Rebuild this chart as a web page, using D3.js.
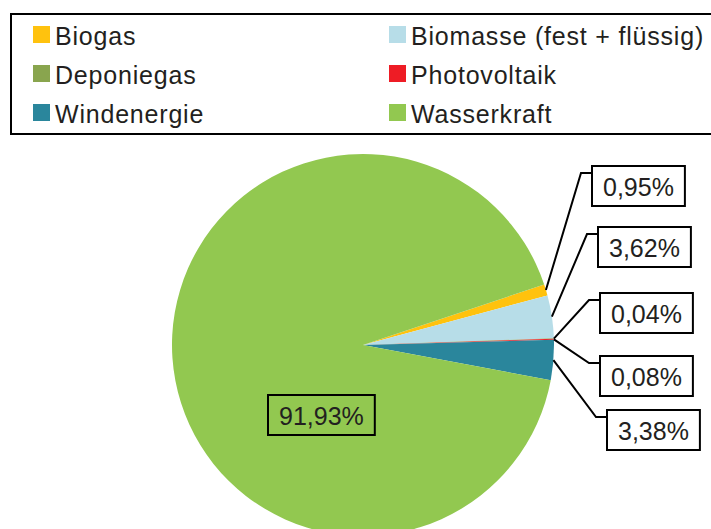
<!DOCTYPE html>
<meta charset="utf-8">
<style>
body { margin: 0; background: #fff; }
svg text {
  font-family: "Liberation Sans", Arial, sans-serif;
  font-size: 25px;
  fill: #231f20;
}
.legend text { letter-spacing: 0.8px; }
.frame { fill: none; stroke: #000; stroke-width: 2px; }
.leader { fill: none; stroke: #000; stroke-width: 2px; }
</style>
<svg width="711" height="529"></svg>
<script src="https://cdnjs.cloudflare.com/ajax/libs/d3/7.8.5/d3.min.js"></script>
<script>

// data
var categories = ["Biogas", "Biomasse (fest + flüssig)", "Deponiegas", "Photovoltaik", "Windenergie", "Wasserkraft"];
var shares = [0.95, 3.62, 0.04, 0.08, 3.38, 91.93];
var colors = ["#ffc20e", "#b7dde8", "#89a54e", "#ee1c25", "#2a869c", "#92c850"];

// label placement (box left / top), as the labels were dragged in the original
var labelPos = [[592, 166], [598, 227], [600, 293], [600, 356], [607, 410], [268, 395]];

var svg = d3.select("svg"),
    cx = 363, cy = 345, radius = 191;

var locale = d3.formatLocale({decimal: ",", thousands: ".", grouping: [3], currency: ["", " €"]});
var fmt = locale.format(".2f");

// legend
svg.append("rect").attr("class", "frame")
    .attr("x", 11).attr("y", 14).attr("width", 720).attr("height", 120);

var legend = svg.append("g").attr("class", "legend").selectAll("g")
    .data(categories)
  .enter().append("g")
    .attr("transform", function(d, i) {
      return "translate(" + (i % 2 ? 389 : 33) + "," + (45 + Math.floor(i / 2) * 39) + ")";
    });

legend.append("rect")
    .attr("y", -19).attr("width", 17).attr("height", 17)
    .attr("fill", function(d, i) { return colors[i]; });

legend.append("text")
    .attr("x", 22)
    .text(function(d) { return d; });

// pie
var start = 71.55 * Math.PI / 180;
var pie = d3.pie().sort(null).value(function(d) { return d; })
    .startAngle(start).endAngle(start + 2 * Math.PI);

var arc = d3.arc().innerRadius(0).outerRadius(radius);
var arcs = pie(shares);

var g = svg.append("g").attr("transform", "translate(" + cx + "," + cy + ")");

g.selectAll("path")
    .data(arcs)
  .enter().append("path")
    .attr("d", arc)
    .attr("fill", function(d, i) { return colors[i]; });

// labels
var labels = svg.append("g").selectAll("g")
    .data(arcs)
  .enter().append("g");

labels.each(function(d, i) {
  var sel = d3.select(this),
      bx = labelPos[i][0], by = labelPos[i][1];

  var t = sel.append("text")
      .attr("x", bx + 11)
      .attr("y", by + 30)
      .text(fmt(d.value) + "%");
  var w = t.node().getComputedTextLength() + 22;

  sel.insert("rect", "text").attr("class", "frame")
      .attr("x", bx).attr("y", by).attr("width", w).attr("height", 40)
      .attr("fill", i === 5 ? "none" : "#fff");

  if (i < 5) {
    var mid = (d.startAngle + d.endAngle) / 2,
        ax = cx + Math.sin(mid) * radius,
        ay = cy - Math.cos(mid) * radius;
    sel.append("path").attr("class", "leader")
        .attr("d", "M" + ax + "," + ay + "L" + (bx - 11) + "," + (by + 7) + "L" + bx + "," + (by + 7));
  }
});

</script>
